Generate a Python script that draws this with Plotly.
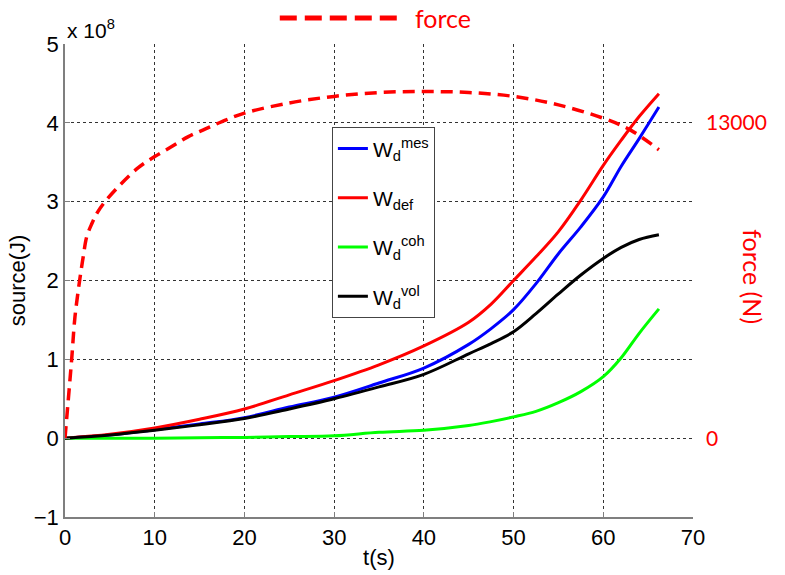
import plotly.graph_objects as go

# time (s) for the energy curves
t = [0, 5, 10, 15, 20, 25, 30, 35, 40, 45, 47.5, 50, 52.5, 55, 57.5, 60, 62, 64, 66.2]
# energies in units of 1e8 J
w_mes = [0, 0.04, 0.107, 0.18, 0.26, 0.395, 0.52, 0.70, 0.89, 1.19, 1.39, 1.63, 1.96, 2.34, 2.68, 3.06, 3.45, 3.80, 4.20]
w_def = [0, 0.05, 0.13, 0.24, 0.37, 0.55, 0.73, 0.93, 1.17, 1.47, 1.70, 2.00, 2.30, 2.62, 3.02, 3.46, 3.78, 4.08, 4.37]
w_coh = [0, 0.0, 0.0, 0.005, 0.01, 0.02, 0.03, 0.075, 0.10, 0.16, 0.21, 0.27, 0.34, 0.45, 0.59, 0.78, 1.02, 1.33, 1.64]
w_vol = [0, 0.04, 0.10, 0.17, 0.25, 0.37, 0.50, 0.65, 0.81, 1.07, 1.20, 1.35, 1.58, 1.83, 2.07, 2.28, 2.42, 2.52, 2.58]

# force (N)
t_force = [0, 0.74, 1.11, 1.67, 2.04, 2.42, 3.0, 3.6, 4.46, 6.24, 8.17, 10, 11.9, 13.75, 15.6,
           17.5, 20, 25, 30, 35, 40, 45, 50, 55, 60, 63, 66.2]
force = [0, 3240, 5000, 6600, 7500, 8300, 8850, 9300, 9750, 10480, 11150, 11610, 12020, 12430, 12740,
         13050, 13400, 13820, 14090, 14250, 14290, 14250, 14090, 13740, 13190, 12710, 11890]

x_ticks = [0, 10, 20, 30, 40, 50, 60, 70]
y_ticks = [-1, 0, 1, 2, 3, 4, 5]
force_ticks = [0, 13000]
force_ticktext = ["0", "13000"]

series = [
    ("W<sub>d</sub><sup>mes</sup>", w_mes, "#0000FF"),
    ("W<sub>def</sub>", w_def, "#FF0000"),
    ("W<sub>d</sub><sup>coh</sup>", w_coh, "#00FF00"),
    ("W<sub>d</sub><sup>vol</sup>", w_vol, "#000000"),
]

fig = go.Figure()
for i, (name, vals, col) in enumerate(series):
    fig.add_trace(go.Scatter(x=t, y=vals, mode="lines", name=name, legendgroup=str(i),
                             line=dict(color=col, width=3, shape="spline", smoothing=1.0)))

fig.add_trace(go.Scatter(x=t_force, y=force, mode="lines", name="force", yaxis="y2",
                         showlegend=False,
                         line=dict(color="#FF0000", width=3.5, dash="12px,7px", shape="spline", smoothing=1.0)))

axis_font = dict(family="Arial, Liberation Sans, sans-serif", size=22, color="black")
red_font = dict(family="Lato, sans-serif", color="#FF0000")

common = dict(showgrid=True, gridcolor="#333333", griddash="dot", gridwidth=1,
              zeroline=False, showline=True, linecolor="#7f7f7f", linewidth=1.5,
              ticks="inside", ticklen=5, tickcolor="#7f7f7f", tickfont=axis_font,
              automargin=False)

fig.update_layout(
    width=785, height=575,
    margin=dict(l=65, r=92, t=44, b=58, autoexpand=False),
    plot_bgcolor="white", paper_bgcolor="white",
    xaxis=dict(range=[0, 70], tickvals=x_ticks, **common,
               title=dict(text="t(s)", font=axis_font, standoff=0)),
    yaxis=dict(range=[-1, 5], tickvals=y_ticks, **common,
               title=dict(text="source(J)", font=axis_font, standoff=2)),
    yaxis2=dict(range=[-3250, 16250], overlaying="y", side="right", showgrid=False,
                zeroline=False, showline=False, ticks="", tickvals=force_ticks,
                ticktext=force_ticktext, ticklabelstandoff=12, automargin=False,
                tickfont=dict(size=21, **red_font)),
    legend=dict(x=0.425, y=0.824, xanchor="left", yanchor="top", bgcolor="white",
                bordercolor="#444444", borderwidth=1, tracegroupgap=19, itemwidth=30,
                font=dict(family="Arial, Liberation Sans, sans-serif", size=21, color="black")),
    showlegend=True,
)

fig.add_annotation(text="x 10<sup>8</sup>", xref="paper", yref="paper", x=0.0, y=1.0,
                   xanchor="left", yanchor="bottom", showarrow=False,
                   font=dict(family="Arial, Liberation Sans, sans-serif", size=21, color="black"))
fig.add_annotation(text="force (N)", xref="paper", yref="paper", x=1.1226, y=0.507,
                   textangle=90, showarrow=False, font=dict(size=25, **red_font))
fig.add_annotation(text="force", xref="paper", yref="paper", x=0.554, y=1.055,
                   xanchor="left", yanchor="middle", showarrow=False, font=dict(size=25, **red_font))
fig.add_shape(type="line", xref="paper", yref="paper", x0=0.342, x1=0.529, y0=1.055, y1=1.055,
              line=dict(color="#FF0000", width=5, dash="17px,8px"))

fig.write_html("out.html", config={"displayModeBar": False},
               post_script="document.body.style.margin='0';")
